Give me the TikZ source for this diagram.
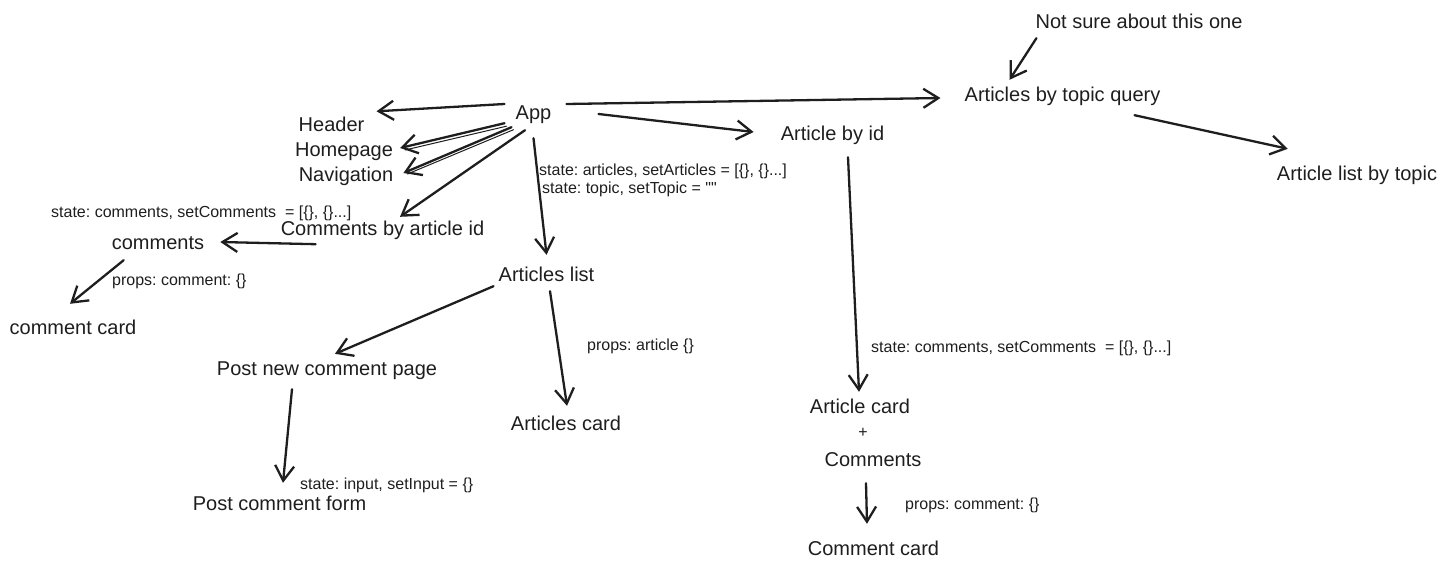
\documentclass[tikz,border=0pt]{standalone}
\usepackage{fontspec}
\setmainfont{Liberation Sans}
\frenchspacing
\usetikzlibrary{arrows.meta}
\definecolor{ink}{HTML}{1E1E1E}
\tikzstyle{bigtext}=[inner sep=0pt, yshift=-2pt, text height=15pt, text depth=4pt, font=\fontsize{20}{24}\selectfont, text=ink]
\tikzstyle{smalltext}=[inner sep=0pt, yshift=-1.5pt, anchor=west, text height=12pt, text depth=3pt, font=\fontsize{16}{19}\selectfont, text=ink]
\tikzstyle{sketch}=[draw=ink, line width=2.3pt, line cap=round, -{Straight Barb[length=15pt,width=19pt]}]
\tikzstyle{sketchthin}=[draw=ink, line width=1pt, line cap=round]

\begin{document}
\begin{tikzpicture}[x=1pt, y=-1pt]
\useasboundingbox (0,0) rectangle (1447,570);

   % components
    \foreach \pos/\name/\txt in {{(1139,21)/notsure/Not sure about this one}, {(1062.5,94)/abtq/Articles by topic query},
        {(533.5,112)/app/App}, {(832.5,133)/abid/Article by id}, {(1357,173)/albt/Article list by topic},
        {(331.5,124)/header/Header}, {(344,149)/homepage/Homepage}, {(346,174)/navigation/Navigation}}
        \node[bigtext] (\name) at \pos {\txt};

    \foreach \pos/\name/\txt in {{(382.5,228)/cbai/Comments by article id}, {(158,242)/comments/comments},
        {(73,327)/commentcard/comment card}, {(546.5,274)/alist/Articles list}, {(327,368)/pncp/Post new comment page},
        {(566,423)/acard/Articles card}, {(279.5,503)/pcf/Post comment form}, {(860,406)/artcard/Article card},
        {(873,459)/commentsB/Comments}, {(873.5,548)/ccard/Comment card}}
        \node[bigtext] (\name) at \pos {\txt};

    \node[smalltext, anchor=center] (plus) at (863,431) {+};

   % state and props
    \node[smalltext] (st1) at (539,169) {state: articles, setArticles = [\{\}, \{\}...]};
    \node[smalltext] (st2) at (542,187) {state: topic, setTopic = \textquotedbl\textquotedbl};
    \node[smalltext] (st3) at (51,211) {state: comments, setComments\ \ = [\{\}, \{\}...]};
    \node[smalltext] (pr1) at (112,279) {props: comment: \{\}};
    \node[smalltext] (pr2) at (587,344) {props: article \{\}};
    \node[smalltext] (st4) at (871,346) {state: comments, setComments\ \ = [\{\}, \{\}...]};
    \node[smalltext] (st5) at (300,483) {state: input, setInput = \{\}};
    \node[smalltext] (pr3) at (905,503) {props: comment: \{\}};

   % from App
    \draw[sketch] ([xshift=-11pt,yshift=10pt]app.west) -- ([xshift=12pt,yshift=5pt]header.north east);
    \draw[sketch] ([xshift=-11pt,yshift=0.5pt]app.south west) -- ([xshift=7pt,yshift=3pt]homepage.east);
    \draw[sketchthin] ([xshift=-9pt,yshift=-2.5pt]app.south west) -- ([xshift=12pt,yshift=1pt]homepage.east);
    \draw[sketch] ([xshift=-4pt,yshift=-3.5pt]app.south west) -- ([xshift=10pt,yshift=3pt]navigation.east);
    \draw[sketchthin] ([xshift=-2pt,yshift=-6pt]app.south west) -- ([xshift=14pt,yshift=2pt]navigation.east);
    \draw[sketch] ([xshift=-8.5pt,yshift=-6.5pt]app.south) -- ([xshift=17.5pt,yshift=3.5pt]cbai.north);
    \draw[sketch] ([yshift=-14.5pt]app.south) -- ([yshift=11.5pt]alist.north);
    \draw[sketch] ([xshift=47pt]app.east) -- ([xshift=-27pt,yshift=3pt]abid.west);
    \draw[sketch] ([xshift=15pt,yshift=10pt]app.east) -- ([xshift=-24pt,yshift=-2pt]abtq.west);

   % right branch
    \draw[sketch] ([xshift=1pt,yshift=-5.5pt]notsure.south west) -- ([xshift=45pt,yshift=6.5pt]abtq.north west);
    \draw[sketch] ([xshift=-26pt,yshift=-9.5pt]abtq.south east) -- ([xshift=11pt,yshift=16.5pt]albt.north west);
    \draw[sketch] ([xshift=15.5pt,yshift=-12.5pt]abid.south) -- ([xshift=-1pt,yshift=6.5pt]artcard.north);
    \draw[sketch] ([xshift=-7pt,yshift=-12.5pt]commentsB.south) -- ([xshift=-6.5pt,yshift=16.5pt]ccard.north);

   % left branch
    \draw[sketch] ([xshift=35pt,yshift=-4.5pt]cbai.south west) -- ([xshift=16pt,yshift=2pt]comments.east);
    \draw[sketch] ([xshift=12pt,yshift=-6.5pt]comments.south west) -- ([xshift=-3pt,yshift=15.5pt]commentcard.north);

   % Articles list
    \draw[sketch] ([xshift=-5pt,yshift=-0.5pt]alist.south west) -- ([xshift=8pt,yshift=6.5pt]pncp.north);
    \draw[sketch] ([xshift=3.5pt,yshift=-5.5pt]alist.south) -- ([xshift=1pt,yshift=9.5pt]acard.north);
    \draw[sketch] ([xshift=-35pt,yshift=-9.5pt]pncp.south) -- ([xshift=3.5pt,yshift=12.5pt]pcf.north);

\end{tikzpicture}
\end{document}
